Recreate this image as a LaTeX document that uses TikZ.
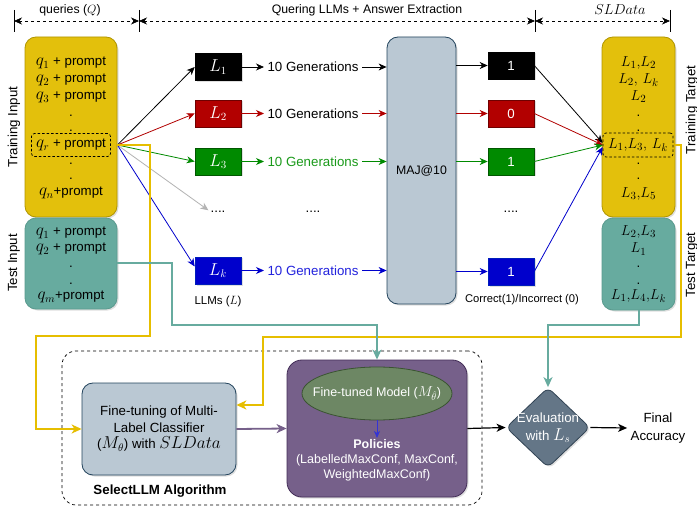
\documentclass[tikz,border=0pt]{standalone}
\usepackage{fontspec}
\setmainfont{Liberation Sans}
\usetikzlibrary{arrows.meta,shapes.geometric,shadows,calc}
\definecolor{yelf}{HTML}{E3C00C}
\definecolor{yeld}{HTML}{B09500}
\definecolor{yell}{HTML}{E6BE00}
\definecolor{tealf}{HTML}{67AB9F}
\definecolor{teald}{HTML}{5A9A8E}
\definecolor{greyf}{HTML}{BAC8D3}
\definecolor{greyd}{HTML}{23445D}
\definecolor{purf}{HTML}{76608A}
\definecolor{purd}{HTML}{432D57}
\definecolor{ellf}{HTML}{6D8764}
\definecolor{elld}{HTML}{3A5431}
\definecolor{diaf}{HTML}{647687}
\definecolor{diad}{HTML}{314354}
\definecolor{cred}{HTML}{B20000}
\definecolor{credd}{HTML}{6F0000}
\definecolor{cgreen}{HTML}{008A00}
\definecolor{cgreend}{HTML}{005700}
\definecolor{cblue}{HTML}{0000CC}
\definecolor{cblued}{HTML}{001DBC}
\definecolor{tgreen}{HTML}{1A9A1A}
\definecolor{tblue}{HTML}{2222DD}
\definecolor{cgray}{HTML}{B3B3B3}
\newcommand\fsz[2]{\fontsize{#1}{#2}\selectfont}
\newcommand\mth[1]{{\fontsize{16}{18}\selectfont$#1$}}
\newcommand\mtr[1]{{\fontsize{15.5}{17}\selectfont$#1$}}
\tikzset{
  arr/.style={-{Stealth[length=8pt,width=7pt,inset=2.5pt]}, line width=0.8pt},
  bigarr/.style={-{Stealth[length=10pt,width=9pt,inset=3pt]}, line width=1.8pt},
  dimarr/.style={{Stealth[length=8pt,width=7pt,inset=2.5pt]}-{Stealth[length=8pt,width=7pt,inset=2.5pt]}, line width=0.7pt, dash pattern=on 3pt off 3pt},
  shad/.style={drop shadow={opacity=0.25, shadow xshift=1.5pt, shadow yshift=-1.5pt}},
  colbox/.style={rectangle, minimum width=46pt, minimum height=27pt, inner sep=0pt, text=white, line width=0.6pt, shad},
  bigbox/.style={rectangle, rounded corners=11pt, line width=0.8pt, inner sep=0pt, shad},
  dbox/.style={draw, dash pattern=on 2.5pt off 2pt, rounded corners=3pt, inner sep=0pt, line width=0.7pt},
  dotn/.style={anchor=base, inner sep=0pt},
  rtxt/.style={inner sep=0.5pt},
  tick/.style={line width=0.7pt},
}
\begin{document}
\begin{tikzpicture}[x=1pt, y=-1pt, font=\fsz{13.3}{16}]
\useasboundingbox[fill=white] (0,0) rectangle (697,508);

% ---------- header ----------
\coordinate (d0) at (14,21);
\coordinate (d1) at (139,21);
\coordinate (d2) at (535,21);
\coordinate (d3) at (670,21);
\foreach \c in {d0,d1,d2,d3}{\draw[tick] ($(\c)+(0,-11)$) -- ($(\c)+(0,11)$);}
\draw[dimarr] (d0) -- (d1);
\draw[dimarr] (d1) -- (d2);
\draw[dimarr] (d2) -- (d3);
\node[font=\fsz{12.3}{14}] (hq) at (70,10) {queries ($Q$)};
\node[font=\fsz{12.3}{14}] (hl) at (367,10) {Quering LLMs + Answer Extraction};
\node[font=\fsz{14.5}{16}] (hs) at (620,10) {$SLData$};

% ---------- left input boxes ----------
\node[bigbox, fill=yelf, draw=yeld, minimum width=92pt, minimum height=180pt] (train) at (71,127) {};
\node[bigbox, fill=tealf, draw=teald, minimum width=92pt, minimum height=91pt] (test) at (71,263.5) {};
\node[rotate=90] (trl) at (14,127) {Training Input};
\node[rotate=90] (tel) at (14,263) {Test Input};

\node (q1) at (71,63) {\mth{q_1} + prompt};
\node (q2) at (71,80) {\mth{q_2} + prompt};
\node (q3) at (71,97) {\mth{q_3} + prompt};
\node[dotn] (ld1) at (71,116.5) {.};
\node[dotn] (ld2) at (71,131.5) {.};
\node[dbox, minimum width=79pt, minimum height=23pt] (qr) at (71,145) {\mth{q_r} + prompt};
\node[dotn] (ld3) at (71,164.5) {.};
\node[dotn] (ld4) at (71,179.5) {.};
\node (qn) at (71,193) {\mth{q_n}+prompt};

\node (t1) at (71,233) {\mth{q_1} + prompt};
\node (t2) at (71,249) {\mth{q_2} + prompt};
\node[dotn] (td1) at (71,267.5) {.};
\node[dotn] (td2) at (71,284.5) {.};
\node (tm) at (71,297) {\mth{q_m}+prompt};

% ---------- LLMs ----------
\node[colbox, fill=black, draw=black] (L1) at (218,67) {\mth{L_1}};
\node[colbox, fill=cred, draw=credd] (L2) at (218,113.5) {\mth{L_2}};
\node[colbox, fill=cgreen, draw=cgreend] (L3) at (218,161.5) {\mth{L_3}};
\node[dotn] (Ld) at (218,213) {....};
\node[colbox, fill=cblue, draw=cblued] (Lk) at (218,270.5) {\mth{L_k}};
\node[font=\fsz{11.5}{13}] (llml) at (218,302) {LLMs ($L$)};

\draw[arr, black] (train.east |- qr) -- (L1.west);
\draw[arr, cred] (train.east |- qr) -- (L2.west);
\draw[arr, cgreen] (train.east |- qr) -- (L3.west);
\draw[arr, cgray] (train.east |- qr) -- ($(Ld.west)+(-2,-2)$);
\draw[arr, cblue] (train.east |- qr) -- ([yshift=4pt]Lk.west);

% ---------- generations ----------
\node (G1) at (313,67) {10 Generations};
\node (G2) at (313,113.5) {10 Generations};
\node[text=tgreen] (G3) at (313,161.5) {10 Generations};
\node[dotn] (Gd) at (313,213) {....};
\node[text=tblue] (Gk) at (313,270.5) {10 Generations};

\draw[arr, black] (L1) -- (G1);
\draw[arr, cred] (L2) -- (G2);
\draw[arr, cgreen] (L3) -- (G3);
\draw[arr, cblue] (Lk) -- (Gk);

% ---------- MAJ ----------
\node[bigbox, fill=greyf, draw=greyd, minimum width=69pt, minimum height=267pt, font=\fsz{12.3}{14}] (maj) at (421.5,170.5) {MAJ@10};
\draw[arr, black] (G1) -- (G1 -| maj.west);
\draw[arr, cred] (G2) -- (G2 -| maj.west);
\draw[arr, cgreen] (G3) -- (G3 -| maj.west);
\draw[arr, cblue] (Gk) -- (Gk -| maj.west);

% ---------- outputs ----------
\node[colbox, fill=black, draw=black] (O1) at (511,65.5) {1};
\node[colbox, fill=cred, draw=credd] (O2) at (511,113.5) {0};
\node[colbox, fill=cgreen, draw=cgreend] (O3) at (511,161.5) {1};
\node[dotn] (Od) at (511,213) {....};
\node[colbox, fill=cblue, draw=cblued] (O4) at (511,271.5) {1};
\node[font=\fsz{11.2}{13}] (cil) at (522,300) {Correct(1)/Incorrect (0)};

\draw[arr, black] (maj.east |- O1) -- (O1);
\draw[arr, cred] (maj.east |- O2) -- (O2);
\draw[arr, cgreen] (maj.east |- O3) -- (O3);
\draw[arr, cblue] (maj.east |- O4) -- (O4);

% ---------- right target boxes ----------
\node[bigbox, fill=yelf, draw=yeld, minimum width=73pt, minimum height=180pt] (sl) at (638.5,127) {};
\node[bigbox, fill=tealf, draw=teald, minimum width=73pt, minimum height=92pt] (tt) at (638.5,264) {};
\node[rotate=90] (trt) at (692,110) {Training Target};
\node[rotate=90] (tet) at (692,265) {Test Target};

\node[rtxt] (r1) at (638.5,63) {\mtr{L_1{,}L_2}};
\node[rtxt] (r2) at (638.5,80) {\mtr{L_2,\,L_k}};
\node[rtxt] (r3) at (638.5,97) {\mtr{L_2}};
\node[dotn] (rd1) at (638.5,116.5) {.};
\node[dotn] (rd2) at (638.5,131.5) {.};
\node[dbox, minimum width=70pt, minimum height=24pt] (rq) at (638,145) {\mtr{L_1{,}L_3,\,L_k}};
\node[dotn] (rd3) at (638.5,164.5) {.};
\node[dotn] (rd4) at (638.5,179.5) {.};
\node[rtxt] (r5) at (638.5,194) {\mtr{L_3{,}L_5}};

\node[rtxt] (s1) at (638.5,232) {\mtr{L_2{,}L_3}};
\node[rtxt] (s2) at (638.5,249) {\mtr{L_1}};
\node[dotn] (sd1) at (638.5,267.5) {.};
\node[dotn] (sd2) at (638.5,284.5) {.};
\node[rtxt] (s3) at (638.5,296) {\mtr{L_1{,}L_4{,}L_k}};

\draw[arr, black] (O1.east) -- ([yshift=2pt]rq.west);
\draw[arr, cred] (O2.east) -- (rq.west);
\draw[arr, cgreen] (O3.east) -- (rq.west);
\draw[arr, cblue] (O4.east) -- ([yshift=-2pt]rq.west);

% ---------- SelectLLM algorithm ----------
\node[draw, dash pattern=on 3pt off 3pt, rounded corners=14pt, line width=0.7pt, minimum width=420pt, minimum height=154pt] (algo) at (272,428) {};
\node[font=\fsz{13.3}{16}\bfseries] (algl) at (160,491) {SelectLLM Algorithm};

\node[bigbox, fill=greyf, draw=greyd, minimum width=154pt, minimum height=92pt, align=center, font=\fsz{13.3}{16.5}] (ft) at (159,429) {Fine-tuning of Multi-\\Label Classifier\\(\mth{M_\theta}) with \mth{SLData}};

\node[bigbox, rounded corners=15pt, fill=purf, draw=purd, minimum width=180pt, minimum height=137pt] (pol) at (377,428.5) {};
\node[ellipse, fill=ellf, draw=elld, line width=0.8pt, minimum width=150pt, minimum height=53pt, inner sep=0pt] (ftm) at (377,393.5) {};
\node[text=white, font=\fsz{12.5}{15}, inner sep=0pt] (ftmt) at (ftm) {Fine-tuned Model ({\fontsize{14}{16}\selectfont$M_{\hat\theta}$})};
\node[text=white, align=center, font=\fsz{12.5}{15}, inner sep=1pt] (polt) at (377,460) {\textbf{Policies}\\(LabelledMaxConf, MaxConf,\\WeightedMaxConf)};
\draw[-{Stealth[length=7pt,width=6pt,inset=2pt]}, line width=0.8pt, cblue!80!white] (ftm.south) -- (polt.north);

\node[diamond, fill=diaf, draw=diad, line width=0.8pt, minimum width=84pt, minimum height=80pt, inner sep=0pt, rounded corners=6pt, shad] (ev) at (548,427.5) {};
\node[text=white, align=center, font=\fsz{13.3}{18}, inner sep=0pt] (evt) at (ev) {Evaluation\\with \mth{L_s}};
\node[align=center, font=\fsz{13.3}{18}] (fin) at (658,428) {Final\\Accuracy};

\draw[bigarr, purf] (ft.east) -- (pol.west);
\draw[-{Stealth[length=9pt,width=8pt,inset=2.5pt]}, line width=1.2pt] (pol.east) -- (ev.west);
\draw[-{Stealth[length=9pt,width=8pt,inset=2.5pt]}, line width=1.2pt] (ev.east) -- (fin.west);

% ---------- long connectors ----------
\draw[bigarr, yell, line width=2pt] (train.east |- qr) -| (150,336) -| (36,429) -- (ft.west);
\draw[bigarr, yell, line width=2pt] (sl.east |- rq) -| (681,337) -| (263,405) -- (ft.east |- 0,405);
\draw[bigarr, tealf, line width=2pt] (test.east) -| (172,325) -| (pol.north);
\draw[bigarr, tealf, line width=2pt] (tt.south) |- (ev.north |- 0,325) -- (ev.north);
\end{tikzpicture}
\end{document}
